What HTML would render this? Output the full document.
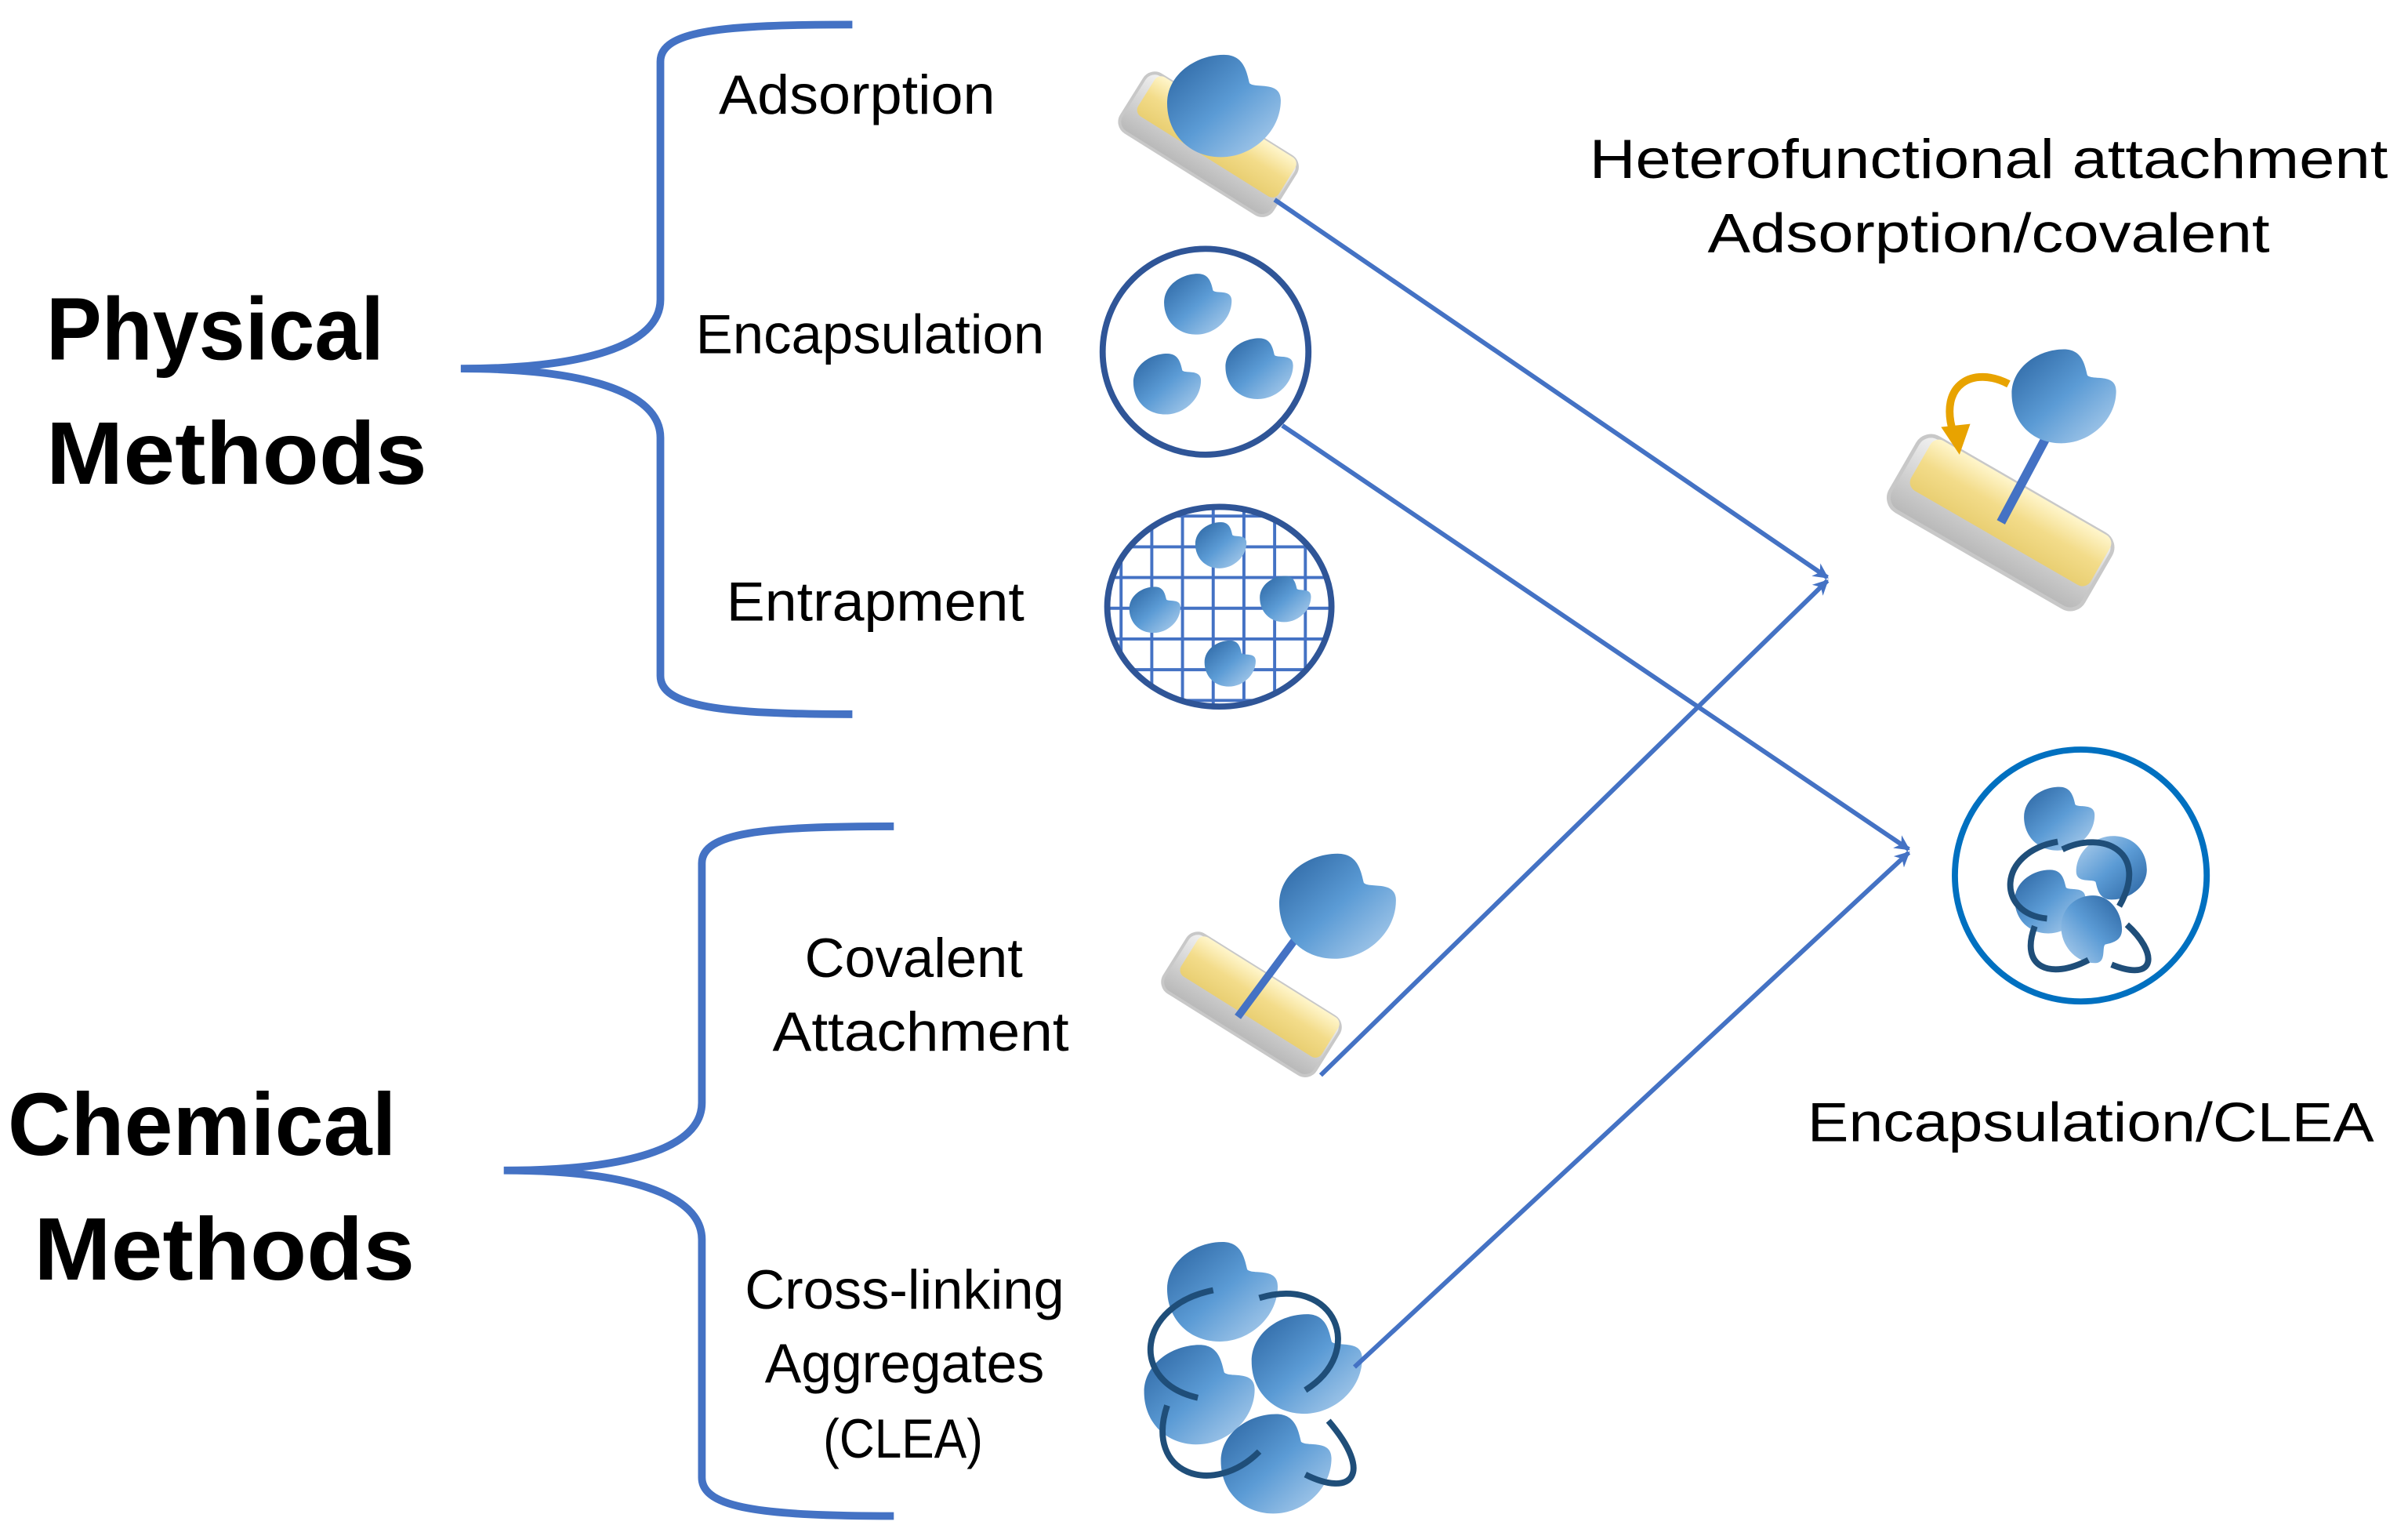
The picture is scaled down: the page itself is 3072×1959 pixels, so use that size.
<!DOCTYPE html>
<html><head><meta charset="utf-8"><style>
html,body{margin:0;padding:0;background:#fff;}
svg{display:block;}
text{font-family:"Liberation Sans","DejaVu Sans",sans-serif;fill:#000;}
</style></head><body>
<svg width="3072" height="1959" viewBox="0 0 1568 1000" xmlns="http://www.w3.org/2000/svg">
<defs>
<linearGradient id="eg" x1="0" y1="0" x2="1" y2="1">
<stop offset="0" stop-color="#2a63a0"/><stop offset="0.5" stop-color="#5b9bd5"/><stop offset="1" stop-color="#b4d2ee"/>
</linearGradient>
<linearGradient id="yg" x1="0" y1="0" x2="0" y2="1">
<stop offset="0" stop-color="#fff6cc"/><stop offset="0.5" stop-color="#f3dc8a"/><stop offset="1" stop-color="#e9cf73"/>
</linearGradient>
<linearGradient id="gg" x1="0" y1="0" x2="0" y2="1">
<stop offset="0" stop-color="#f2f2f2"/><stop offset="1" stop-color="#b8b8b8"/>
</linearGradient>
<symbol id="enz" viewBox="0 0 40 36" overflow="visible">
<path d="M20,0 C27,0 28,6 29,10 C31,12 40,9 40,16 C40,27 30,36 19,36 C8,36 0,28 0,17 C0,7 10,0 20,0 Z" fill="url(#eg)"/>
</symbol>
<symbol id="plate" viewBox="-60 -25 120 50" overflow="visible">
<rect x="-58" y="-20" width="116" height="44" rx="8" fill="url(#gg)" stroke="#c8c8c8" stroke-width="2"/>
<rect x="-52" y="-20" width="108" height="30" rx="5" fill="url(#yg)"/>
</symbol>
<marker id="ah" markerWidth="10" markerHeight="10" refX="9" refY="5" orient="auto" markerUnits="userSpaceOnUse">
<path d="M0,0 L10,5 L0,10 L3,5 Z" fill="#4472c4"/>
</marker>
</defs>

<path d="M555,16 C470,16 430,20 430,40 L430,195 C430,225 380,240 300,240 C380,240 430,255 430,285 L430,440 C430,460 470,465 555,465" fill="none" stroke="#4472c4" stroke-width="5"/>
<path d="M582,538 C497,538 457,542 457,562 L457,718 C457,748 407,762 328,762 C407,762 457,777 457,807 L457,962 C457,982 497,987 582,987" fill="none" stroke="#4472c4" stroke-width="5"/>

<g font-size="58" font-weight="bold" lengthAdjust="spacingAndGlyphs">
<text x="30" y="234" textLength="220" lengthAdjust="spacingAndGlyphs">Physical</text>
<text x="30" y="315" textLength="248" lengthAdjust="spacingAndGlyphs">Methods</text>
<text x="5" y="752" textLength="253" lengthAdjust="spacingAndGlyphs">Chemical</text>
<text x="22" y="833" textLength="248" lengthAdjust="spacingAndGlyphs">Methods</text>
</g>

<g font-size="36">
<text x="468" y="74" textLength="180" lengthAdjust="spacingAndGlyphs">Adsorption</text>
<text x="453" y="230" textLength="227" lengthAdjust="spacingAndGlyphs">Encapsulation</text>
<text x="473" y="404" textLength="194" lengthAdjust="spacingAndGlyphs">Entrapment</text>
<text x="524" y="636" textLength="142" lengthAdjust="spacingAndGlyphs">Covalent</text>
<text x="503" y="684" textLength="193" lengthAdjust="spacingAndGlyphs">Attachment</text>
<text x="485" y="852" textLength="208" lengthAdjust="spacingAndGlyphs">Cross-linking</text>
<text x="498" y="900" textLength="182" lengthAdjust="spacingAndGlyphs">Aggregates</text>
<text x="536" y="949" textLength="104" lengthAdjust="spacingAndGlyphs">(CLEA)</text>
<text x="1035" y="116" textLength="520" lengthAdjust="spacingAndGlyphs">Heterofunctional attachment</text>
<text x="1112" y="164" textLength="366" lengthAdjust="spacingAndGlyphs">Adsorption/covalent</text>
<text x="1177" y="743" textLength="369" lengthAdjust="spacingAndGlyphs">Encapsulation/CLEA</text>
</g>

<use href="#plate" x="720" y="65" width="120" height="50" transform="rotate(32 780 105)"/>
<use href="#enz" x="760" y="33" width="74" height="72"/>

<circle cx="785" cy="229" r="67" fill="#fff" stroke="#2f5597" stroke-width="4"/>
<use href="#enz" x="758" y="178" width="44" height="40"/>
<use href="#enz" x="738" y="230" width="44" height="40"/>
<use href="#enz" x="798" y="220" width="44" height="40"/>

<clipPath id="ec"><ellipse cx="794" cy="395" rx="73" ry="65"/></clipPath>
<g clip-path="url(#ec)" stroke="#4472c4" stroke-width="2">
<path d="M730,330V460M750,330V460M770,330V460M790,330V460M810,330V460M830,330V460M850,330V460M710,336H880M710,356H880M710,376H880M710,396H880M710,416H880M710,436H880M710,456H880"/>
</g>
<ellipse cx="794" cy="395" rx="73" ry="65" fill="none" stroke="#2f5597" stroke-width="4"/>
<use href="#enz" x="778" y="340" width="34" height="30"/>
<use href="#enz" x="735" y="382" width="34" height="30"/>
<use href="#enz" x="820" y="375" width="34" height="30"/>
<use href="#enz" x="784" y="417" width="34" height="30"/>

<use href="#plate" x="748" y="625" width="120" height="50" transform="rotate(32 808 665)"/>
<line x1="806" y1="662" x2="852" y2="600" stroke="#4472c4" stroke-width="5"/>
<use href="#enz" x="833" y="555" width="76" height="70"/>

<g>
<use href="#enz" x="760" y="808" width="72" height="66"/>
<use href="#enz" x="815" y="855" width="72" height="66"/>
<use href="#enz" x="745" y="875" width="72" height="66"/>
<use href="#enz" x="795" y="920" width="72" height="66"/>
<path d="M790,840 C740,850 735,900 780,910 M820,845 C870,830 890,880 850,905 M760,915 C745,960 790,975 820,945 M865,925 C895,960 880,975 850,960" fill="none" stroke="#1f4e79" stroke-width="4"/>
</g>

<use href="#plate" x="1225" y="305" width="150" height="64" transform="rotate(30 1300 345)"/>
<line x1="1303" y1="340" x2="1335" y2="280" stroke="#4472c4" stroke-width="6"/>
<use href="#enz" x="1310" y="226" width="68" height="64"/>
<path d="M1308,250 C1285,238 1262,250 1272,282" fill="none" stroke="#e8a300" stroke-width="5"/>
<path d="M1264,278 L1276,296 L1283,276 Z" fill="#e8a300"/>

<circle cx="1355" cy="570" r="82" fill="#fff" stroke="#0070c0" stroke-width="4"/>
<use href="#enz" x="1318" y="512" width="46" height="42"/>
<use href="#enz" x="1352" y="544" width="46" height="42" transform="rotate(180 1375 565)"/>
<use href="#enz" x="1312" y="566" width="46" height="42"/>
<use href="#enz" x="1340" y="584" width="44" height="42" transform="rotate(90 1362 605)"/>
<path d="M1340,548 C1300,555 1300,595 1333,598 M1343,553 C1370,540 1400,555 1380,590 M1325,603 C1315,630 1335,638 1360,625 M1385,602 C1405,620 1405,640 1375,628" fill="none" stroke="#1f4e79" stroke-width="4"/>

<g stroke="#4472c4" stroke-width="3" fill="none" marker-end="url(#ah)">
<line x1="830" y1="130" x2="1190" y2="376"/>
<line x1="835" y1="277" x2="1243" y2="553"/>
<line x1="860" y1="700" x2="1190" y2="378"/>
<line x1="882" y1="890" x2="1243" y2="555"/>
</g>
</svg>
</body></html>
